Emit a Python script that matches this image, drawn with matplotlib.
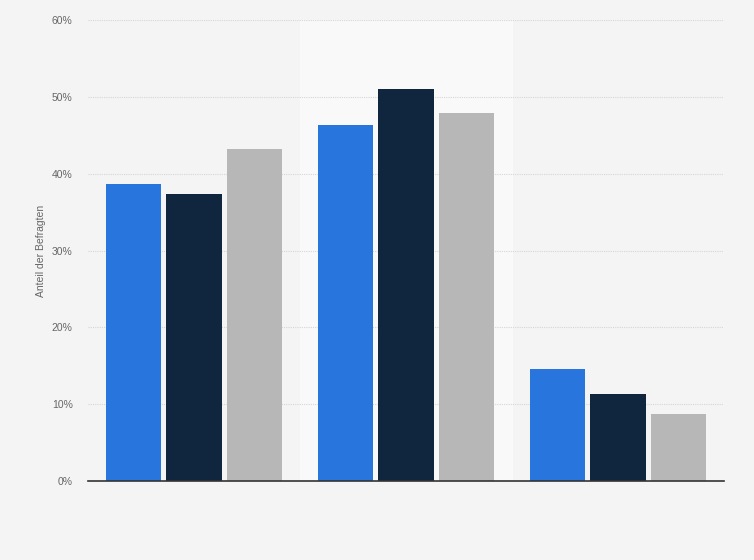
import numpy as np
import matplotlib.pyplot as plt

gruppen = ["", "", ""]
serie_a = [38.7, 46.4, 14.6]
serie_b = [37.4, 51.0, 11.3]
serie_c = [43.2, 47.9, 8.7]
y_ticks = [0, 10, 20, 30, 40, 50, 60]

farben = ["#2876dd", "#10263f", "#b7b7b7"]

plt.rcParams["font.family"] = ["Liberation Sans", "DejaVu Sans"]

fig = plt.figure(figsize=(7.54, 5.6), dpi=100)
fig.patch.set_facecolor("#f4f4f4")
ax = fig.add_axes([0.1167, 0.141, 0.8435, 0.823])
ax.set_facecolor("#f4f4f4")

x = np.arange(len(gruppen))
# mittlere Gruppe hervorgehoben
ax.axvspan(0.5, 1.5, color="#f9f9f9", zorder=0)

breite = 0.26
abstand = 0.285
for i, (werte, farbe) in enumerate(zip([serie_a, serie_b, serie_c], farben)):
    ax.bar(x + (i - 1) * abstand, werte, breite, color=farbe, zorder=3)

ax.set_xlim(-0.5, 2.5)
ax.set_ylim(0, 60)
ax.set_yticks(y_ticks)
ax.set_yticklabels([f"{t}%" for t in y_ticks], fontsize=7.5, color="#666666")
ax.set_xticks([])
ax.grid(axis="y", color="#d6d6d6", linestyle=(0, (1, 1)), linewidth=0.8, zorder=1)
for s in ["top", "right", "left"]:
    ax.spines[s].set_visible(False)
ax.spines["bottom"].set_color("#333333")
ax.spines["bottom"].set_linewidth(1.2)
ax.spines["bottom"].set_zorder(4)
ax.tick_params(axis="y", length=0, pad=11)
ax.set_ylabel("Anteil der Befragten", fontsize=7.5, color="#666666", labelpad=4)

fig.savefig("out.png", dpi=100, facecolor=fig.get_facecolor())
